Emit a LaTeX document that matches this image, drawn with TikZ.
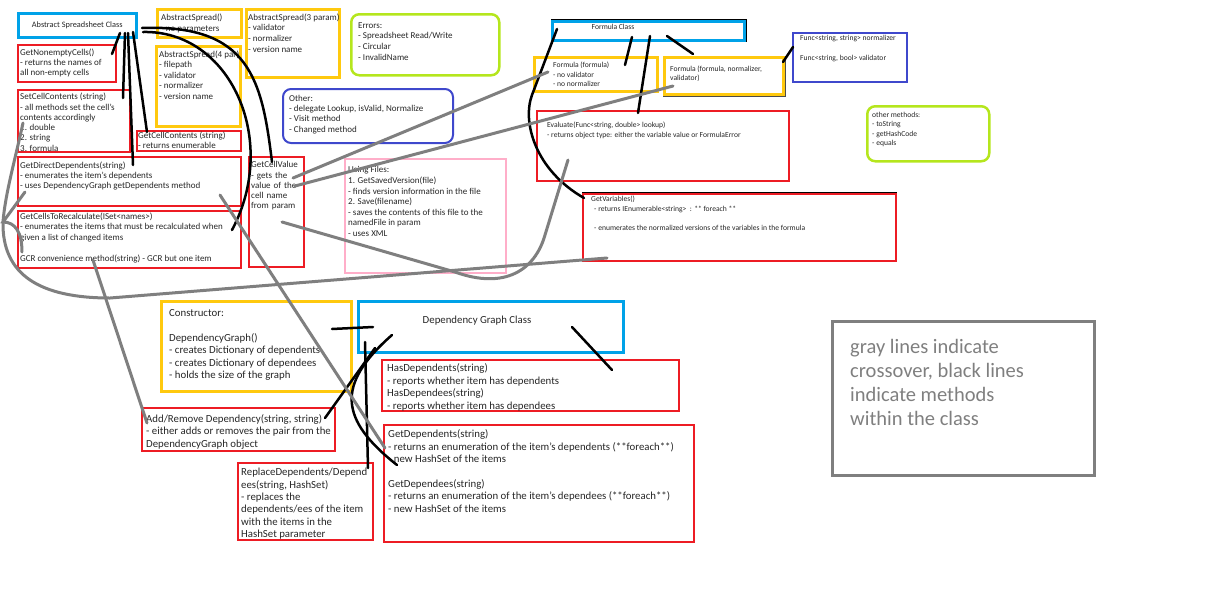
\documentclass[tikz,border=0pt]{standalone}
\usepackage{xcolor}
\usepackage{fontspec}
\setmainfont{Carlito}
\usepackage{tikz}
\usetikzlibrary{positioning, calc}

\definecolor{pred}{HTML}{ED1C24}
\definecolor{pyellow}{HTML}{FFC90E}
\definecolor{pcyan}{HTML}{00A2E8}
\definecolor{plime}{HTML}{B5E61D}
\definecolor{pindigo}{HTML}{3F48CC}
\definecolor{ppink}{HTML}{FFAEC9}
\definecolor{pgray}{HTML}{7F7F7F}
\definecolor{txtcol}{HTML}{262626}

\newcommand{\txtxs}{\fontsize{7.6}{10}\selectfont}
\newcommand{\txtm}{\fontsize{9}{10.6}\selectfont}
\newcommand{\txtl}{\fontsize{10.8}{12.5}\selectfont}
\newcommand{\txtxl}{\fontsize{20.5}{23.9}\selectfont}

\begin{document}
\begin{tikzpicture}[x=1pt, y=-1pt]
	\tikzstyle{redbox}=[draw=pred, line width=2, anchor=north west]
	\tikzstyle{yelbox}=[draw=pyellow, line width=2.5, anchor=north west]
	\tikzstyle{cyanbox}=[draw=pcyan, line width=2.5, anchor=north west]
	\tikzstyle{limebox}=[draw=plime, line width=2.5, rounded corners=8, anchor=north west]
	\tikzstyle{indigobox}=[draw=pindigo, line width=2, anchor=north west]
	\tikzstyle{pinkbox}=[draw=ppink, line width=1.5, anchor=north west]
	\tikzstyle{legendbox}=[draw=pgray, line width=3, anchor=north west]
	\tikzstyle{boxtext}=[anchor=north west, inner sep=0pt, align=left, text=txtcol]
	\tikzstyle{blackline}=[black, line width=2.5, line cap=round]
	\tikzstyle{grayline}=[pgray, line width=3, line cap=round]
	
	\useasboundingbox (0,0) rectangle (1205,592);
	
	% abstract spreadsheet class
	\node (asc) at (17,12) [cyanbox, minimum width=118, minimum height=24] {};
	\node (as0) at (156,8) [yelbox, minimum width=84, minimum height=28] {};
	\node (as3) at (245,8) [yelbox, minimum width=93, minimum height=68] {};
	\node (err) at (350,13) [limebox, minimum width=148, minimum height=61] {};
	\node (gnc) at (17,44) [redbox, minimum width=98, minimum height=37] {};
	\node (as4) at (155,45) [yelbox, minimum width=84, minimum height=80] {};
	\node (scc) at (17,89) [redbox, minimum width=112, minimum height=62] {};
	\node (gcc) at (136,130) [redbox, minimum width=104, minimum height=20] {};
	\node (oth) at (282,88) [indigobox, rounded corners=8, minimum width=170, minimum height=54] {};
	\node (gdd) at (17,156) [redbox, minimum width=223, minimum height=49] {};
	\node (gcv) at (248,156) [redbox, minimum width=55, minimum height=110] {};
	\node (usf) at (344,158) [pinkbox, minimum width=161, minimum height=114] {};
	\node (gcr) at (17,210) [redbox, minimum width=223, minimum height=57] {};
	
	\node (asct) at (asc.center) [text=txtcol, inner sep=0pt, font=\fontsize{8.3}{10}\selectfont] {Abstract Spreadsheet Class};
	\node (as0t) at (161,13.6) [boxtext, font=\fontsize{9}{11}\selectfont] {AbstractSpread()\\- no parameters};
	\node (as3t) at (248,13.6) [boxtext, font=\txtm] {AbstractSpread(3 param)\\- validator\\- normalizer\\- version name};
	\node (errt) at (358,22.4) [boxtext, font=\txtm] {Errors:\\- Spreadsheet Read/Write\\- Circular\\- InvalidName};
	\node (gnct) at (20,49) [boxtext, font=\fontsize{9}{10}\selectfont] {GetNonemptyCells()\\- returns the names of\\all non-empty cells};
	\node (as4t) at (159,50.4) [boxtext, font=\txtm] {AbstractSpread(4 par)\\- filepath\\- validator\\- normalizer\\- version name};
	\node (scct) at (20,93) [boxtext, font=\fontsize{9}{10.3}\selectfont] {SetCellContents (string)\\- all methods set the cell's\\contents accordingly\\1. double\\2. string\\3. formula};
	\node (gcct) at (138,131.4) [boxtext, font=\txtm] {GetCellContents (string)\\- returns enumerable};
	\node (otht) at (289,94.7) [boxtext, font=\fontsize{9}{10.3}\selectfont] {Other:\\- delegate Lookup, isValid, Normalize\\- Visit method\\- Changed method};
	\node (gddt) at (20,161.4) [boxtext, font=\fontsize{9}{10}\selectfont] {GetDirectDependents(string)\\- enumerates the item's dependents\\- uses DependencyGraph getDependents method};
	\node (gcvt) at (251,161.4) [boxtext, font=\fontsize{9}{10.2}\selectfont, text width=60] {GetCellValue\\- gets the\\value of the\\cell name\\from param};
	\node (usft) at (348,166.4) [boxtext, font=\txtm] {Using Files:\\1. GetSavedVersion(file)\\- finds version information in the file\\2. Save(filename)\\- saves the contents of this file to the\\namedFile in param\\- uses XML};
	\node (gcrt) at (20,212.4) [boxtext, font=\fontsize{9}{10.5}\selectfont] {GetCellsToRecalculate(ISet<names>)\\- enumerates the items that must be recalculated when\\given a list of changed items\\[10.5pt]GCR convenience method(string) - GCR but one item};
	
	% formula class
	\node (fcl) at (551,20) [cyanbox, minimum width=192, minimum height=19] {};
	\node (ff1) at (533,56) [yelbox, minimum width=123, minimum height=34] {};
	\node (ff3) at (663,56) [yelbox, minimum width=119, minimum height=37] {};
	\node (fnc) at (792,32) [indigobox, minimum width=114, minimum height=49] {};
	\node (evl) at (536,110) [redbox, minimum width=252, minimum height=70] {};
	\node (omt) at (866,105) [limebox, minimum width=122, minimum height=55] {};
	\node (gvr) at (582,193) [redbox, minimum width=313, minimum height=67] {};
	% dark edges drawn over some of the boxes
	\draw [black, line width=1] ([yshift=0.5pt]fcl.north west) -- ([yshift=0.5pt, xshift=0.5pt]fcl.north east) -- ([xshift=0.5pt]fcl.south east);
	\draw [black!70, line width=1] ([xshift=0.5pt]ff3.north east) -- ([xshift=0.5pt, yshift=-0.5pt]ff3.south east) -- ([yshift=-0.5pt]ff3.south west);
	\draw [black, line width=1] ([yshift=0.5pt]gvr.north west) -- ([yshift=0.5pt]gvr.north east);
	
	\node (fclt) at (613,27) [text=txtcol, inner sep=0pt, font=\txtxs] {Formula Class};
	\node (ff1t) at (553,62) [boxtext, font=\fontsize{7.6}{9.5}\selectfont] {Formula (formula)\\- no validator\\- no normalizer};
	\node (ff3t) at (670,65.3) [boxtext, font=\fontsize{7.6}{9.2}\selectfont] {Formula (formula, normalizer,\\validator)};
	\node (fnct) at (800,35) [boxtext, font=\txtxs] {Func<string, string> normalizer\\[10pt]Func<string, bool> validator};
	\node (evlt) at (547,122) [boxtext, font=\txtxs] {Evaluate(Func<string, double> lookup)\\- returns object type: either the variable value or FormulaError};
	\node (omtt) at (872,112) [boxtext, font=\fontsize{7.6}{9.4}\selectfont] {other methods:\\- toString\\- getHashCode\\- equals};
	\node (gvrt) at (591,196) [boxtext, font=\txtxs] {GetVariables()\\\hspace*{3pt}- returns IEnumerable<string>\ \ : ** foreach **\\[8.7pt]\hspace*{3pt}- enumerates the normalized versions of the variables in the formula};
	
	% dependency graph class
	\node (ctr) at (160,300) [yelbox, minimum width=190, minimum height=90] {};
	\node (dgc) at (357,300) [cyanbox, minimum width=265, minimum height=51] {};
	\node (hsd) at (381,359) [redbox, minimum width=297, minimum height=51] {};
	\node (adr) at (141,407) [redbox, minimum width=193, minimum height=43] {};
	\node (gdp) at (383,424) [redbox, minimum width=310, minimum height=117] {};
	\node (rpd) at (237,462) [redbox, minimum width=135, minimum height=77] {};
	\node (lgd) at (831,320) [legendbox, minimum width=262, minimum height=154] {};
	
	\node (ctrt) at (169,309.3) [boxtext, font=\fontsize{10.8}{12.4}\selectfont] {Constructor:\\[12.4pt]DependencyGraph()\\- creates Dictionary of dependents\\- creates Dictionary of dependees\\- holds the size of the graph};
	\node (dgct) at (477,321) [text=txtcol, inner sep=0pt, font=\txtl] {Dependency Graph Class};
	\node (hsdt) at (387,363.4) [boxtext, font=\fontsize{10.8}{12.7}\selectfont] {HasDependents(string)\\- reports whether item has dependents\\HasDependees(string)\\- reports whether item has dependees};
	\node (adrt) at (146,414) [boxtext, font=\fontsize{10.8}{12.7}\selectfont] {Add/Remove Dependency(string, string)\\- either adds or removes the pair from the\\DependencyGraph object};
	\node (gdpt) at (388,429.7) [boxtext, font=\fontsize{10.8}{12.3}\selectfont] {GetDependents(string)\\- returns an enumeration of the item's dependents (**foreach**)\\- new HashSet of the items\\[12.7pt]GetDependees(string)\\- returns an enumeration of the item's dependees (**foreach**)\\- new HashSet of the items};
	\node (rpdt) at (241,468) [boxtext, font=\fontsize{10.8}{12.4}\selectfont] {ReplaceDependents/Depend\\ees(string, HashSet)\\- replaces the\\dependents/ees of the item\\with the items in the\\HashSet parameter};
	\node (lgdt) at (850,339.4) [boxtext, font=\txtxl, text=pgray] {gray lines indicate\\crossover, black lines\\indicate methods\\within the class};
	
	% black lines: methods within the class
	\coordinate (ascA) at (120,33); \coordinate (gncA) at (112,54);
	\coordinate (ascB) at (125,33); \coordinate (sccA) at (123,98);
	\coordinate (ascC) at (128,33); \coordinate (gddA) at (133,165);
	\coordinate (ascD) at (133,32); \coordinate (gccA) at (147,132);
	\coordinate (ascE) at (142,28); \coordinate (gcvA) at (272,162);
	\coordinate (ascF) at (143,32); \coordinate (gcrA) at (232,230);
	\draw [blackline] (ascA) -- (gncA);
	\draw [blackline] (ascB) -- (sccA);
	\draw [blackline] (ascC) -- (gddA);
	\draw [blackline] (ascD) -- (gccA);
	\draw [blackline] (ascE) .. controls (250,24) and (262,80) .. (gcvA);
	\draw [blackline] (ascF) .. controls (230,30) and (280,140) .. (gcrA);
	
	\coordinate (fclA) at (557,29); \coordinate (gvrA) at (584,198);
	\coordinate (fclB) at (632,37); \coordinate (ff1A) at (625,65);
	\coordinate (fclC) at (650,36); \coordinate (evlA) at (638,113);
	\coordinate (fclD) at (667,36); \coordinate (ff3A) at (693,54);
	\coordinate (ff3B) at (783,62); \coordinate (fncA) at (793,47);
	\draw [blackline] (fclA) -- (532,95) .. controls (522,122) and (535,170) .. (gvrA);
	\draw [blackline] (fclB) -- (ff1A);
	\draw [blackline] (fclC) -- (evlA);
	\draw [blackline] (fclD) -- (ff3A);
	\draw [blackline] (ff3B) -- (fncA);
	
	\coordinate (ctrA) at (332,329); \coordinate (dgcA) at (373,327);
	\coordinate (dgcB) at (572,327); \coordinate (hsdA) at (612,370);
	\coordinate (dgcC) at (365,342); \coordinate (rpdA) at (368,468);
	\coordinate (dgcD) at (375,348); \coordinate (adrA) at (325,418);
	\coordinate (dgcE) at (392,335); \coordinate (gdpA) at (397,465);
	\draw [blackline] (ctrA) -- (dgcA);
	\draw [blackline] (dgcB) -- (hsdA);
	\draw [blackline] (dgcC) -- (rpdA);
	\draw [blackline] (dgcD) -- (adrA);
	\draw [blackline] (dgcE) .. controls (335,385) and (340,420) .. (gdpA);
	
	% gray lines: crossover
	\coordinate (gcvB) at (293,178); \coordinate (ff1B) at (548,72);
	\coordinate (gcvC) at (295,186); \coordinate (ff3C) at (673,86);
	\coordinate (gcvD) at (282,222); \coordinate (evlB) at (568,160);
	\coordinate (gddB) at (220,195); \coordinate (gdpB) at (385,448);
	\coordinate (gcrB) at (93,260); \coordinate (adrB) at (147,423);
	\coordinate (sccB) at (23,123); \coordinate (bend) at (3,222);
	\coordinate (gvrB) at (607,258);
	\coordinate (gddC) at (25,192); \coordinate (gcrC) at (22,252);
	\draw [grayline] (gcvB) -- (ff1B);
	\draw [grayline] (gcvC) -- (ff3C);
	\draw [grayline] (gcvD) -- (455,272) .. controls (505,290) and (535,270) .. (545,235) -- (evlB);
	\draw [grayline] (gddB) -- (gdpB);
	\draw [grayline] (gcrB) -- (adrB);
	\draw [grayline] (sccB) .. controls (15,160) and (5,195) .. (bend) .. controls (2,275) and (40,298) .. (110,298) -- (gvrB);
	\draw [grayline] (gddC) -- (bend) .. controls (15,222) and (22,232) .. (gcrC);
	
\end{tikzpicture}
\end{document}
